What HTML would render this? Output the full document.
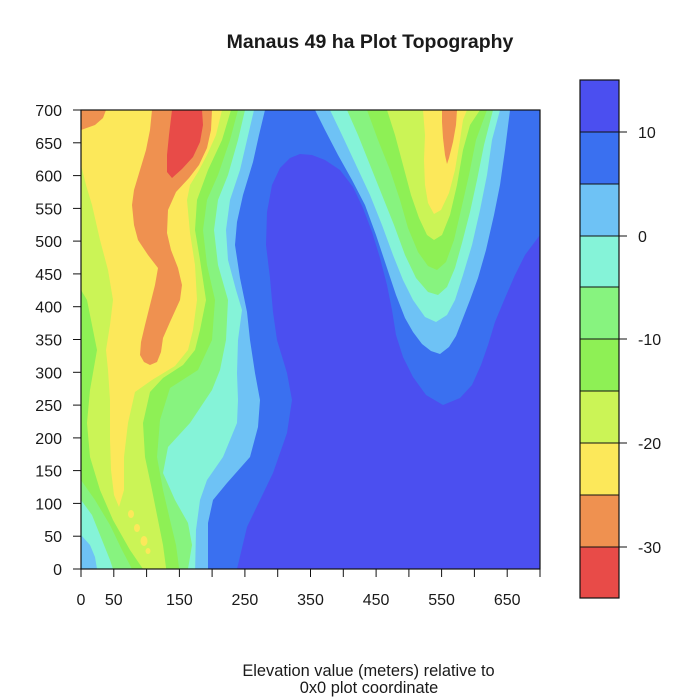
<!DOCTYPE html>
<html><head><meta charset="utf-8"><style>
html,body{margin:0;padding:0;background:#fff;}
svg{display:block;}
text{font-family:"Liberation Sans",Arial,sans-serif;fill:#1a1a1a;}
</style></head><body>
<svg width="700" height="700" viewBox="0 0 700 700" xmlns="http://www.w3.org/2000/svg">
<rect x="0" y="0" width="700" height="700" fill="#fff"/>
<defs><clipPath id="pc"><rect x="81" y="110" width="459" height="459"/></clipPath></defs>
<g clip-path="url(#pc)">
<rect x="81" y="110" width="459" height="459" fill="#3a70f0"/>
<!-- violet -->
<polygon fill="#4b4ff0" points="237,569 247,527 260,500 273,473 287,433 292,400 287,373 277,340 273,312 270,278 266,245 267,212 272,185 280,168 290,158 300,154 312,155 325,160 340,170 353,187 363,208 372,232 380,258 387,285 392,310 396,335 403,357 413,377 426,395 443,405 460,398 472,385 481,365 488,345 495,322 505,298 515,275 525,255 540,235 545,235 545,575 237,575"/>
<!-- light blue -->
<polygon fill="#6ec2f5" points="75,105 265,105 265,110 259,135 253,162 243,195 237,222 235,245 240,278 247,312 250,340 255,373 260,400 258,427 250,457 227,483 213,500 208,523 208,575 75,575"/>
<polygon fill="#6ec2f5" points="315,105 315,110 325,130 338,155 352,180 365,205 376,235 386,265 396,295 405,318 413,332 422,344 431,351 440,354 449,347 456,336 463,318 470,300 478,278 486,250 494,215 500,185 505,150 510,110 510,105"/>
<!-- aquamarine -->
<polygon fill="#85f3d8" points="75,105 254,105 254,110 247,140 240,170 230,200 226,230 228,260 236,290 242,310 238,340 237,373 238,400 237,423 223,457 207,480 200,500 196,530 195,575 97,575 97,569 95,557 90,545 81,535 75,535"/>
<polygon fill="#85f3d8" points="330,105 330,110 342,135 356,165 370,195 382,225 393,255 403,280 413,300 425,317 436,322 447,315 455,300 463,275 472,245 480,210 487,175 492,140 500,110 500,105"/>
<!-- light green -->
<polygon fill="#87f37f" points="75,105 245,105 245,110 238,140 228,175 218,200 214,230 218,265 228,300 226,340 220,370 212,390 190,423 168,447 163,473 175,500 188,523 192,545 187,575 113,575 113,569 110,560 102,540 92,515 81,500 75,500"/>
<polygon fill="#87f37f" points="347,105 347,110 358,135 370,165 382,195 394,225 405,255 416,278 428,292 438,295 447,287 455,268 462,243 470,212 477,180 484,145 493,110 493,105"/>
<!-- green -->
<polygon fill="#8ef055" points="75,105 238,105 238,110 230,140 218,175 207,200 203,230 207,265 215,300 212,340 198,370 170,388 160,420 157,457 163,490 170,520 176,545 180,575 132,575 132,569 122,550 110,525 95,500 81,480 75,480"/>
<polygon fill="#8ef055" points="367,105 367,110 378,140 390,170 400,200 408,228 418,252 428,266 437,270 446,262 454,240 461,210 469,175 476,140 487,110 487,105"/>
<!-- yellow-green -->
<polygon fill="#cbf456" points="75,105 231,105 231,110 222,140 208,170 197,200 195,230 200,260 206,300 200,330 195,350 183,365 163,378 150,392 143,423 145,457 152,490 158,520 163,545 167,575 143,575 143,569 130,550 113,520 100,490 90,457 87,423 90,390 97,350 87,300 81,290 75,290"/>
<polygon fill="#cbf456" points="387,105 387,110 395,135 403,165 411,195 419,218 427,235 434,240 442,235 450,215 457,185 463,150 470,125 480,110 480,105"/>
<!-- yellow -->
<polygon fill="#fce85a" points="75,105 222,105 222,110 216,135 207,155 198,172 190,185 187,200 190,233 195,265 197,300 193,330 188,350 175,366 152,380 135,392 128,423 124,457 124,490 119,507 114,495 111,470 110,440 110,400 108,370 106,350 110,325 113,300 108,270 100,240 92,205 86,185 81,165 75,165"/>
<polygon fill="#fce85a" points="423,105 423,110 425,135 424,160 425,185 428,203 434,214 441,210 449,193 455,170 460,140 463,120 467,110 467,105"/>
<ellipse fill="#fce85a" cx="131" cy="514" rx="3" ry="4"/>
<ellipse fill="#fce85a" cx="137" cy="528" rx="3" ry="4"/>
<ellipse fill="#fce85a" cx="144" cy="541" rx="3.5" ry="5"/>
<ellipse fill="#fce85a" cx="148" cy="551" rx="2.5" ry="3"/>
<!-- orange -->
<polygon fill="#ef9150" points="75,105 106,105 106,110 103,118 95,125 81,130 75,130"/>
<polygon fill="#ef9150" points="152,105 152,110 150,130 146,150 140,170 134,190 132,205 134,225 138,240 148,255 158,268 155,285 150,305 145,325 141,342 140,355 144,362 150,365 157,362 161,352 163,338 170,322 180,300 182,285 178,268 171,250 167,233 168,210 176,192 189,178 199,165 207,148 211,130 212,110 212,105"/>
<polygon fill="#ef9150" points="442,105 457,105 457,110 456,125 453,142 449,158 447,164 445,155 443,138 442,122"/>
<!-- red -->
<polygon fill="#e84b48" points="172,105 202,105 202,110 203,125 200,142 193,157 182,169 172,178 167,172 167,155 169,135 172,110"/>
</g>
<rect x="81" y="110" width="459" height="459" fill="none" stroke="#111" stroke-width="1.2"/>
<!-- y ticks -->
<g stroke="#111" stroke-width="1">
<line x1="73" y1="569" x2="81" y2="569"/><line x1="73" y1="536.2" x2="81" y2="536.2"/><line x1="73" y1="503.4" x2="81" y2="503.4"/><line x1="73" y1="470.6" x2="81" y2="470.6"/><line x1="73" y1="437.9" x2="81" y2="437.9"/><line x1="73" y1="405.1" x2="81" y2="405.1"/><line x1="73" y1="372.3" x2="81" y2="372.3"/><line x1="73" y1="339.5" x2="81" y2="339.5"/><line x1="73" y1="306.7" x2="81" y2="306.7"/><line x1="73" y1="273.9" x2="81" y2="273.9"/><line x1="73" y1="241.1" x2="81" y2="241.1"/><line x1="73" y1="208.4" x2="81" y2="208.4"/><line x1="73" y1="175.6" x2="81" y2="175.6"/><line x1="73" y1="142.8" x2="81" y2="142.8"/><line x1="73" y1="110" x2="81" y2="110"/>
<line x1="81" y1="569" x2="81" y2="577"/><line x1="113.8" y1="569" x2="113.8" y2="577"/><line x1="146.6" y1="569" x2="146.6" y2="577"/><line x1="179.4" y1="569" x2="179.4" y2="577"/><line x1="212.1" y1="569" x2="212.1" y2="577"/><line x1="244.9" y1="569" x2="244.9" y2="577"/><line x1="277.7" y1="569" x2="277.7" y2="577"/><line x1="310.5" y1="569" x2="310.5" y2="577"/><line x1="343.3" y1="569" x2="343.3" y2="577"/><line x1="376.1" y1="569" x2="376.1" y2="577"/><line x1="408.9" y1="569" x2="408.9" y2="577"/><line x1="441.6" y1="569" x2="441.6" y2="577"/><line x1="474.4" y1="569" x2="474.4" y2="577"/><line x1="507.2" y1="569" x2="507.2" y2="577"/><line x1="540" y1="569" x2="540" y2="577"/>
</g>
<g font-size="16" text-anchor="end">
<text x="62" y="575">0</text><text x="62" y="542.2">50</text><text x="62" y="509.4">100</text><text x="62" y="476.6">150</text><text x="62" y="443.9">200</text><text x="62" y="411.1">250</text><text x="62" y="378.3">300</text><text x="62" y="345.5">350</text><text x="62" y="312.7">400</text><text x="62" y="279.9">450</text><text x="62" y="247.1">500</text><text x="62" y="214.4">550</text><text x="62" y="181.6">600</text><text x="62" y="148.8">650</text><text x="62" y="116">700</text>
</g>
<g font-size="16" text-anchor="middle">
<text x="81" y="605">0</text><text x="113.8" y="605">50</text><text x="179.4" y="605">150</text><text x="244.9" y="605">250</text><text x="310.5" y="605">350</text><text x="376.1" y="605">450</text><text x="441.6" y="605">550</text><text x="507.2" y="605">650</text>
</g>
<!-- colorbar -->
<rect x="580" y="80" width="39" height="52" fill="#4b4ff0"/>
<rect x="580" y="132" width="39" height="52" fill="#3a70f0"/>
<rect x="580" y="184" width="39" height="52" fill="#6ec2f5"/>
<rect x="580" y="236" width="39" height="51" fill="#85f3d8"/>
<rect x="580" y="287" width="39" height="52" fill="#87f37f"/>
<rect x="580" y="339" width="39" height="52" fill="#8ef055"/>
<rect x="580" y="391" width="39" height="52" fill="#cbf456"/>
<rect x="580" y="443" width="39" height="52" fill="#fce85a"/>
<rect x="580" y="495" width="39" height="52" fill="#ef9150"/>
<rect x="580" y="547" width="39" height="51" fill="#e84b48"/>
<g stroke="#111" stroke-width="1">
<line x1="580" y1="132" x2="619" y2="132"/><line x1="580" y1="184" x2="619" y2="184"/><line x1="580" y1="236" x2="619" y2="236"/><line x1="580" y1="287" x2="619" y2="287"/><line x1="580" y1="339" x2="619" y2="339"/><line x1="580" y1="391" x2="619" y2="391"/><line x1="580" y1="443" x2="619" y2="443"/><line x1="580" y1="495" x2="619" y2="495"/><line x1="580" y1="547" x2="619" y2="547"/>
<line x1="619" y1="132" x2="627" y2="132"/><line x1="619" y1="236" x2="627" y2="236"/><line x1="619" y1="339" x2="627" y2="339"/><line x1="619" y1="443" x2="627" y2="443"/><line x1="619" y1="547" x2="627" y2="547"/>
</g>
<rect x="580" y="80" width="39" height="518" fill="none" stroke="#111" stroke-width="1.2"/>
<g font-size="16" text-anchor="start">
<text x="638" y="138">10</text><text x="638" y="242">0</text><text x="638" y="345">-10</text><text x="638" y="449">-20</text><text x="638" y="553">-30</text>
</g>
<text x="370" y="48" font-size="19.5" font-weight="bold" text-anchor="middle">Manaus 49 ha Plot Topography</text>
<text x="368.5" y="676" font-size="16.4" text-anchor="middle">Elevation value (meters) relative to</text>
<text x="369" y="693" font-size="16.4" text-anchor="middle">0x0 plot coordinate</text>
</svg>
</body></html>
